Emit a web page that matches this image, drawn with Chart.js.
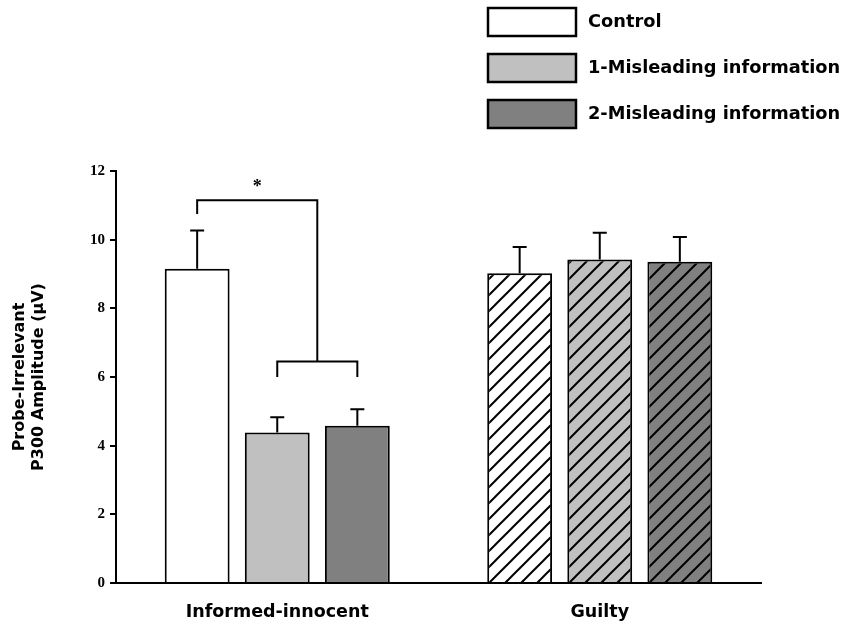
<!DOCTYPE html>
<html lang="en">
<head>
<meta charset="UTF-8">
<title>Probe-Irrelevant P300 Amplitude</title>
<script src="https://cdn.jsdelivr.net/npm/chart.js@4"></script>
<style>
    html, body { margin: 0; padding: 0; background: #fff; }
    #wrap { width: 843px; height: 626px; position: relative; }
</style>
</head>
<body>
<div id="wrap"><canvas id="chart"></canvas></div>
<script>
const categories = ['Informed-innocent', 'Guilty'];
const seriesNames = ['Control', '1-Misleading information', '2-Misleading information'];
const seriesColors = ['#ffffff', '#c0c0c0', '#808080'];
const controlMeans = [9.15, 9.02];
const mis1Means = [4.38, 9.42];
const mis2Means = [4.58, 9.36];
const controlErr = [1.12, 0.77];
const mis1Err = [0.45, 0.78];
const mis2Err = [0.48, 0.72];
const yTicks = [0, 2, 4, 6, 8, 10, 12];
// significance bracket levels (data units)
const bracketTop = 11.15;
const bracketLeftEnd = 10.75;
const bracketLow = 6.45;
const bracketLowEnd = 6.0;
const starLevel = 11.6;

const means = [controlMeans, mis1Means, mis2Means];
const errs = [controlErr, mis1Err, mis2Err];

const canvas = document.getElementById('chart');
const ctx = canvas.getContext('2d');

// diagonal hatch for the Guilty group
function hatch(bg) {
    const c = document.createElement('canvas');
    c.width = 16; c.height = 16;
    const g = c.getContext('2d');
    g.fillStyle = bg;
    g.fillRect(0, 0, 16, 16);
    g.strokeStyle = '#000';
    g.lineWidth = 2;
    g.beginPath();
    g.moveTo(-2, 18); g.lineTo(18, -2);
    g.moveTo(-2, 2); g.lineTo(2, -2);
    g.moveTo(14, 18); g.lineTo(18, 14);
    g.stroke();
    return ctx.createPattern(c, 'repeat');
}

const errorBars = {
    id: 'errorBars',
    afterDatasetsDraw(chart) {
        const y = chart.scales.y;
        const c = chart.ctx;
        c.save();
        c.strokeStyle = '#000';
        c.lineWidth = 2;
        means.forEach((m, i) => {
            chart.getDatasetMeta(i).data.forEach((bar, j) => {
                const top = y.getPixelForValue(m[j] + errs[i][j]);
                c.beginPath();
                c.moveTo(bar.x, bar.y);
                c.lineTo(bar.x, top);
                c.moveTo(bar.x - 7, top);
                c.lineTo(bar.x + 7, top);
                c.stroke();
            });
        });

        // significance bracket: control vs. misleading groups (informed-innocent)
        const x0 = chart.getDatasetMeta(0).data[0].x;
        const x1 = chart.getDatasetMeta(1).data[0].x;
        const x2 = chart.getDatasetMeta(2).data[0].x;
        const xm = (x1 + x2) / 2;
        const yt = y.getPixelForValue(bracketTop);
        const yl = y.getPixelForValue(bracketLow);
        c.beginPath();
        c.moveTo(x0, y.getPixelForValue(bracketLeftEnd));
        c.lineTo(x0, yt);
        c.lineTo(xm, yt);
        c.lineTo(xm, yl);
        c.moveTo(x1, y.getPixelForValue(bracketLowEnd));
        c.lineTo(x1, yl);
        c.lineTo(x2, yl);
        c.lineTo(x2, y.getPixelForValue(bracketLowEnd));
        c.stroke();
        c.fillStyle = '#000';
        c.font = 'bold 18px "Liberation Serif"';
        c.textAlign = 'center';
        c.textBaseline = 'middle';
        c.fillText('*', (x0 + xm) / 2, y.getPixelForValue(starLevel) + 3);
        c.restore();
    }
};

const boxLegend = {
    id: 'boxLegend',
    afterDraw(chart) {
        const c = chart.ctx;
        c.save();
        c.font = 'bold 17.8px "DejaVu Sans"';
        c.textBaseline = 'middle';
        c.textAlign = 'left';
        seriesNames.forEach((name, i) => {
            const top = 8 + i * 46;
            c.fillStyle = seriesColors[i];
            c.fillRect(488, top, 88, 28);
            c.strokeStyle = '#000';
            c.lineWidth = 2.5;
            c.strokeRect(488, top, 88, 28);
            c.fillStyle = '#000';
            c.fillText(name, 588, top + 14);
        });
        c.restore();
    }
};

const datasets = seriesNames.map((name, i) => ({
    label: name,
    data: means[i],
    backgroundColor: [seriesColors[i], hatch(seriesColors[i])],
    borderColor: '#000',
    borderWidth: 2,
    categoryPercentage: 0.745,
    barPercentage: 0.81
}));

new Chart(ctx, {
    type: 'bar',
    data: { labels: categories, datasets: datasets },
    options: {
        responsive: true,
        maintainAspectRatio: false,
        animation: false,
        layout: { padding: { top: 171, right: 82, left: 0, bottom: 0 } },
        plugins: {
            legend: { display: false },
            tooltip: { enabled: false }
        },
        scales: {
            x: {
                grid: { display: false },
                border: { display: true, color: '#000', width: 2 },
                ticks: {
                    color: '#000',
                    font: { family: '"DejaVu Sans"', size: 17.5, weight: 'bold' },
                    padding: 11
                },
                afterFit(s) { s.height = 43; }
            },
            y: {
                min: 0,
                max: 12,
                afterBuildTicks(s) { s.ticks = yTicks.map(v => ({ value: v })); },
                grid: { drawOnChartArea: false, drawTicks: true, tickLength: 6, color: '#000', lineWidth: 2 },
                border: { display: true, color: '#000', width: 2 },
                ticks: {
                    color: '#000',
                    font: { family: '"Liberation Serif"', size: 15, weight: 'bold' },
                    padding: 5
                },
                title: {
                    display: true,
                    text: ['Probe-Irrelevant', 'P300 Amplitude (μV)'],
                    color: '#000',
                    font: { family: '"DejaVu Sans"', size: 16, weight: 'bold', lineHeight: 1.2 },
                    padding: { top: 10, bottom: 0 }
                },
                afterFit(s) { s.width = 116; }
            }
        }
    },
    plugins: [errorBars, boxLegend]
});
</script>
</body>
</html>
